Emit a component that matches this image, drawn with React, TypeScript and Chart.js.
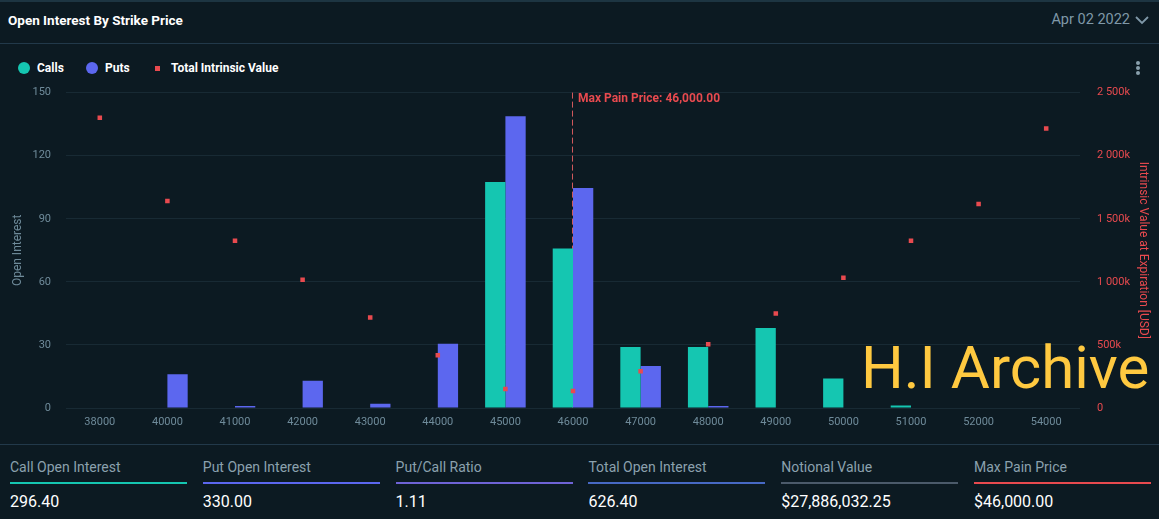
import React, { useEffect, useRef } from "react";
import { Chart, registerables } from "chart.js";

Chart.register(...registerables);

const strikes = ["38000", "40000", "41000", "42000", "43000", "44000", "45000", "46000", "47000", "48000", "49000", "50000", "51000", "52000", "54000"];
const calls = [0, 0, 0, 0, 0, 0, 107.5, 75.8, 29, 29, 38, 14, 1.2, 0, 0];
const puts = [0, 16, 1, 13, 2, 30.5, 138.7, 104.6, 20, 1, 0, 0, 0, 0, 0];
const intrinsic = [2300000, 1640000, 1325000, 1017000, 718000, 418000, 150000, 134000, 292000, 505000, 749000, 1033000, 1325000, 1617000, 2216000];
const maxPainStrike = "46000";
const maxPainLabel = "Max Pain Price: 46,000.00";
const stats = [
  { label: "Call Open Interest", value: "296.40", color: "#15c6b1" },
  { label: "Put Open Interest", value: "330.00", color: "#5c67ef" },
  { label: "Put/Call Ratio", value: "1.11", color: "#6f63d6" },
  { label: "Total Open Interest", value: "626.40", color: "#4769c4" },
  { label: "Notional Value", value: "$27,886,032.25", color: "#4b5a6a" },
  { label: "Max Pain Price", value: "$46,000.00", color: "#e84a4f" },
];

const BG = "#0c1a22";
const TEAL = "#15c6b1";
const BLUE = "#5c67ef";
const RED = "#e84a4f";
const TICK = "#6f8b9a";
const GRID = "#182a34";

const fmtK = (v: number) => {
  if (v === 0) return "0";
  const k = Math.round(v / 1000);
  const s = String(k);
  return (s.length > 3 ? s.slice(0, s.length - 3) + " " + s.slice(s.length - 3) : s) + "k";
};

const maxPainPlugin = {
  id: "maxPain",
  beforeDatasetsDraw(chart: any) {
    const { ctx, chartArea, scales } = chart;
    const idx = strikes.indexOf(maxPainStrike);
    const x = Math.round(scales.x.getPixelForValue(idx)) - 0.5;
    ctx.save();
    ctx.strokeStyle = "#d0585c";
    ctx.lineWidth = 1;
    ctx.setLineDash([6, 3]);
    ctx.beginPath();
    ctx.moveTo(x, chartArea.top);
    ctx.lineTo(x, chartArea.bottom);
    ctx.stroke();
    ctx.restore();
  },
  afterDatasetsDraw(chart: any) {
    const { ctx, chartArea, scales } = chart;
    const idx = strikes.indexOf(maxPainStrike);
    const x = Math.round(scales.x.getPixelForValue(idx));
    ctx.save();
    ctx.fillStyle = RED;
    ctx.font = "bold 12px Roboto";
    ctx.textBaseline = "middle";
    ctx.textAlign = "left";
    ctx.fillText(maxPainLabel, x + 5, chartArea.top + 6);
    ctx.restore();
  },
};

export default function App() {
  const ref = useRef<HTMLCanvasElement>(null);
  useEffect(() => {
    document.body.style.margin = "0";
    document.body.style.background = BG;
    Chart.defaults.font.family = "Roboto";
    const chart = new Chart(ref.current!, {
      type: "bar",
      data: {
        labels: strikes,
        datasets: [
          {
            type: "line" as any,
            label: "Total Intrinsic Value",
            data: intrinsic,
            yAxisID: "y1",
            showLine: false,
            pointStyle: "rect",
            pointRadius: 3.2,
            pointBackgroundColor: RED,
            pointBorderWidth: 0,
            borderColor: RED,
            backgroundColor: RED,
            order: 0,
          } as any,
          {
            label: "Calls",
            data: calls,
            backgroundColor: TEAL,
            borderWidth: 0,
            yAxisID: "y",
            categoryPercentage: 0.6,
            barPercentage: 1.0,
            order: 1,
          },
          {
            label: "Puts",
            data: puts,
            backgroundColor: BLUE,
            borderWidth: 0,
            yAxisID: "y",
            categoryPercentage: 0.6,
            barPercentage: 1.0,
            order: 1,
          },
        ],
      },
      options: {
        responsive: false,
        animation: false,
        events: [],
        layout: { padding: { top: 0, left: 0, right: 0, bottom: 0 } },
        plugins: { legend: { display: false }, tooltip: { enabled: false } },
        scales: {
          x: {
            grid: { display: false, drawTicks: false },
            border: { display: false },
            ticks: { color: TICK, font: { size: 11 }, padding: 8, maxRotation: 0, autoSkip: false },
            afterFit: (s: any) => { s.height = 32; },
          },
          y: {
            position: "left",
            min: 0,
            max: 150,
            ticks: { stepSize: 30, color: TICK, font: { size: 11 }, padding: 15 },
            grid: { color: GRID, drawTicks: false, lineWidth: 1 },
            border: { display: false },
            title: { display: true, text: "Open Interest", color: TICK, font: { size: 12 }, padding: { top: 11, bottom: 0 } },
            afterFit: (s: any) => { s.width = 66; },
          },
          y1: {
            position: "right",
            min: 0,
            max: 2500000,
            ticks: { stepSize: 500000, color: RED, font: { size: 11 }, padding: 17, callback: (v: any) => fmtK(Number(v)) },
            grid: { display: false, drawTicks: false },
            border: { display: false },
            title: { display: true, text: "Intrinsic Value at Expiration [USD]", color: RED, font: { size: 12 }, padding: { top: 9, bottom: 0 } },
            afterFit: (s: any) => { s.width = 79; },
          },
        },
      } as any,
      plugins: [maxPainPlugin],
    });
    return () => chart.destroy();
  }, []);

  const font = "Roboto, 'Noto Sans', sans-serif";
  return (
    <div style={{ position: "relative", width: 1159, height: 519, background: BG, overflow: "hidden", fontFamily: font }}>
      <div style={{ position: "absolute", left: 0, top: 0, width: 1159, height: 2, background: "#1d3542" }} />
      <div style={{ position: "absolute", left: 8, top: 11, color: "#ffffff", fontWeight: 700, fontSize: 13.5, lineHeight: "18px", whiteSpace: "nowrap" }}>Open Interest By Strike Price</div>
      <div style={{ position: "absolute", right: 29, top: 11, color: "#7f98a8", fontSize: 14.5, lineHeight: "18px", whiteSpace: "nowrap" }}>Apr 02 2022</div>
      <svg style={{ position: "absolute", left: 1134, top: 14 }} width="16" height="12" viewBox="0 0 16 12">
        <polyline points="2,3 8,9 14,3" fill="none" stroke="#7f98a8" strokeWidth="1.8" />
      </svg>
      <div style={{ position: "absolute", left: 0, top: 43, width: 1159, height: 1, background: "#22394a" }} />
      {/* legend */}
      <div style={{ position: "absolute", left: 18, top: 62, width: 12, height: 12, borderRadius: 6, background: TEAL }} />
      <div style={{ position: "absolute", left: 37, top: 60, color: "#fff", fontWeight: 700, fontSize: 12, lineHeight: "16px" }}>Calls</div>
      <div style={{ position: "absolute", left: 86, top: 62, width: 12, height: 12, borderRadius: 6, background: BLUE }} />
      <div style={{ position: "absolute", left: 105, top: 60, color: "#fff", fontWeight: 700, fontSize: 12, lineHeight: "16px" }}>Puts</div>
      <div style={{ position: "absolute", left: 155, top: 66, width: 5, height: 5, background: RED }} />
      <div style={{ position: "absolute", left: 171, top: 60, color: "#fff", fontWeight: 700, fontSize: 12, lineHeight: "16px", whiteSpace: "nowrap" }}>Total Intrinsic Value</div>
      {[63, 68, 73].map((y) => (
        <div key={y} style={{ position: "absolute", left: 1136, top: y - 2, width: 4, height: 4, borderRadius: 2, background: "#8aa0ad" }} />
      ))}
      <canvas ref={ref} width={1159} height={371} style={{ position: "absolute", left: 0, top: 69, width: 1159, height: 371 }} />
      <div style={{ position: "absolute", left: 861, top: 333, color: "#ffc940", fontSize: 60, lineHeight: "70px", whiteSpace: "nowrap", pointerEvents: "none" }}>H.I Archive</div>
      <div style={{ position: "absolute", left: 0, top: 444, width: 1159, height: 1, background: "#22394a" }} />
      {stats.map((s, i) => (
        <div key={s.label} style={{ position: "absolute", left: 10 + i * 192.8, top: 457, width: 177 }}>
          <div style={{ color: "#8ba1ae", fontSize: 14, lineHeight: "20px", whiteSpace: "nowrap" }}>{s.label}</div>
          <div style={{ position: "absolute", left: 0, top: 25, width: 177, height: 2, background: s.color }} />
          <div style={{ position: "absolute", left: 0, top: 35, color: "#ffffff", fontSize: 16, lineHeight: "20px", whiteSpace: "nowrap" }}>{s.value}</div>
        </div>
      ))}
    </div>
  );
}
